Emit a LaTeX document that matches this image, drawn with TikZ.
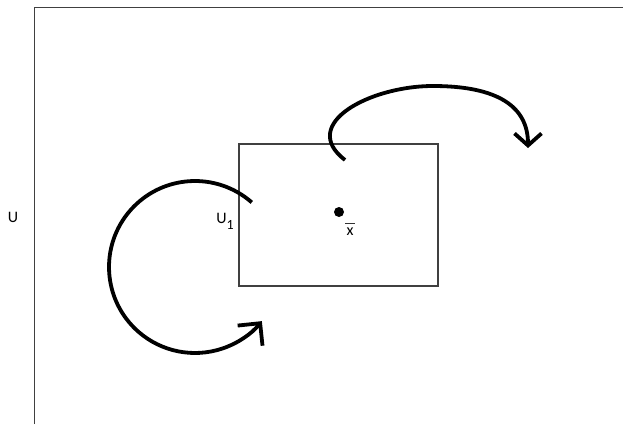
\documentclass[tikz,border=0pt]{standalone}
\usepackage{fontspec}
\setmainfont{Carlito}
\usetikzlibrary{arrows.meta}

\begin{document}
\begin{tikzpicture}[x=1pt,y=1pt,
  frame/.style={draw=black!75, line width=1.6pt},
  region/.style={draw=black!75, line width=1.1pt},
  flow/.style={line width=3.8pt, black},
  lbl/.style={inner sep=0pt, font=\fontsize{16}{18}\selectfont}]
  % canvas
  \useasboundingbox (0,0) rectangle (623,424);
  \fill[white] (0,0) rectangle (623,424);

  % outer set U (left and top edges only)
  \coordinate (ubl) at (34.5,0);
  \coordinate (utl) at (34.5,416.5);
  \coordinate (utr) at (623,416.5);
  \draw[frame] (ubl) -- (utl) -- (utr);
  \node[lbl] (u) at (13,207) {U};

  % inner set U_1
  \node[region, minimum width=199pt, minimum height=142pt, inner sep=0pt]
    (box) at (338.5,209) {};
  \node[lbl, anchor=east] (u1) at (234,203)
    {U\raisebox{-6pt}{\fontsize{14}{15}\selectfont 1}};

  % point x with a bar over it
  \node[circle, fill=black, inner sep=0pt, minimum size=10pt] (pt) at (339,212) {};
  \node[lbl, anchor=base] (xb) at (350,189) {x};
  \draw[line width=1.3pt, black!80]
    ([xshift=-5pt,yshift=3.5pt]xb.north) -- ([xshift=5pt,yshift=3.5pt]xb.north);

  % left flow: almost full turn around the left side
  \coordinate (lc) at (195,157);
  \draw[flow, -{Straight Barb[length=16pt,width=32pt]}]
    ([shift={(48.7:86)}]lc) arc[start angle=48.7, end angle=321, radius=86];

  % right flow: arc over the top of the box
  \coordinate (rs) at (345,264);
  \coordinate (rt) at (433,338);
  \coordinate (re) at (528,276);
  \draw[flow, -{Straight Barb[length=12pt,width=27pt]}]
    (rs) .. controls (298,300) and (370,338) .. (rt)
         .. controls (490,338) and (528,322) .. (re);
\end{tikzpicture}
\end{document}
